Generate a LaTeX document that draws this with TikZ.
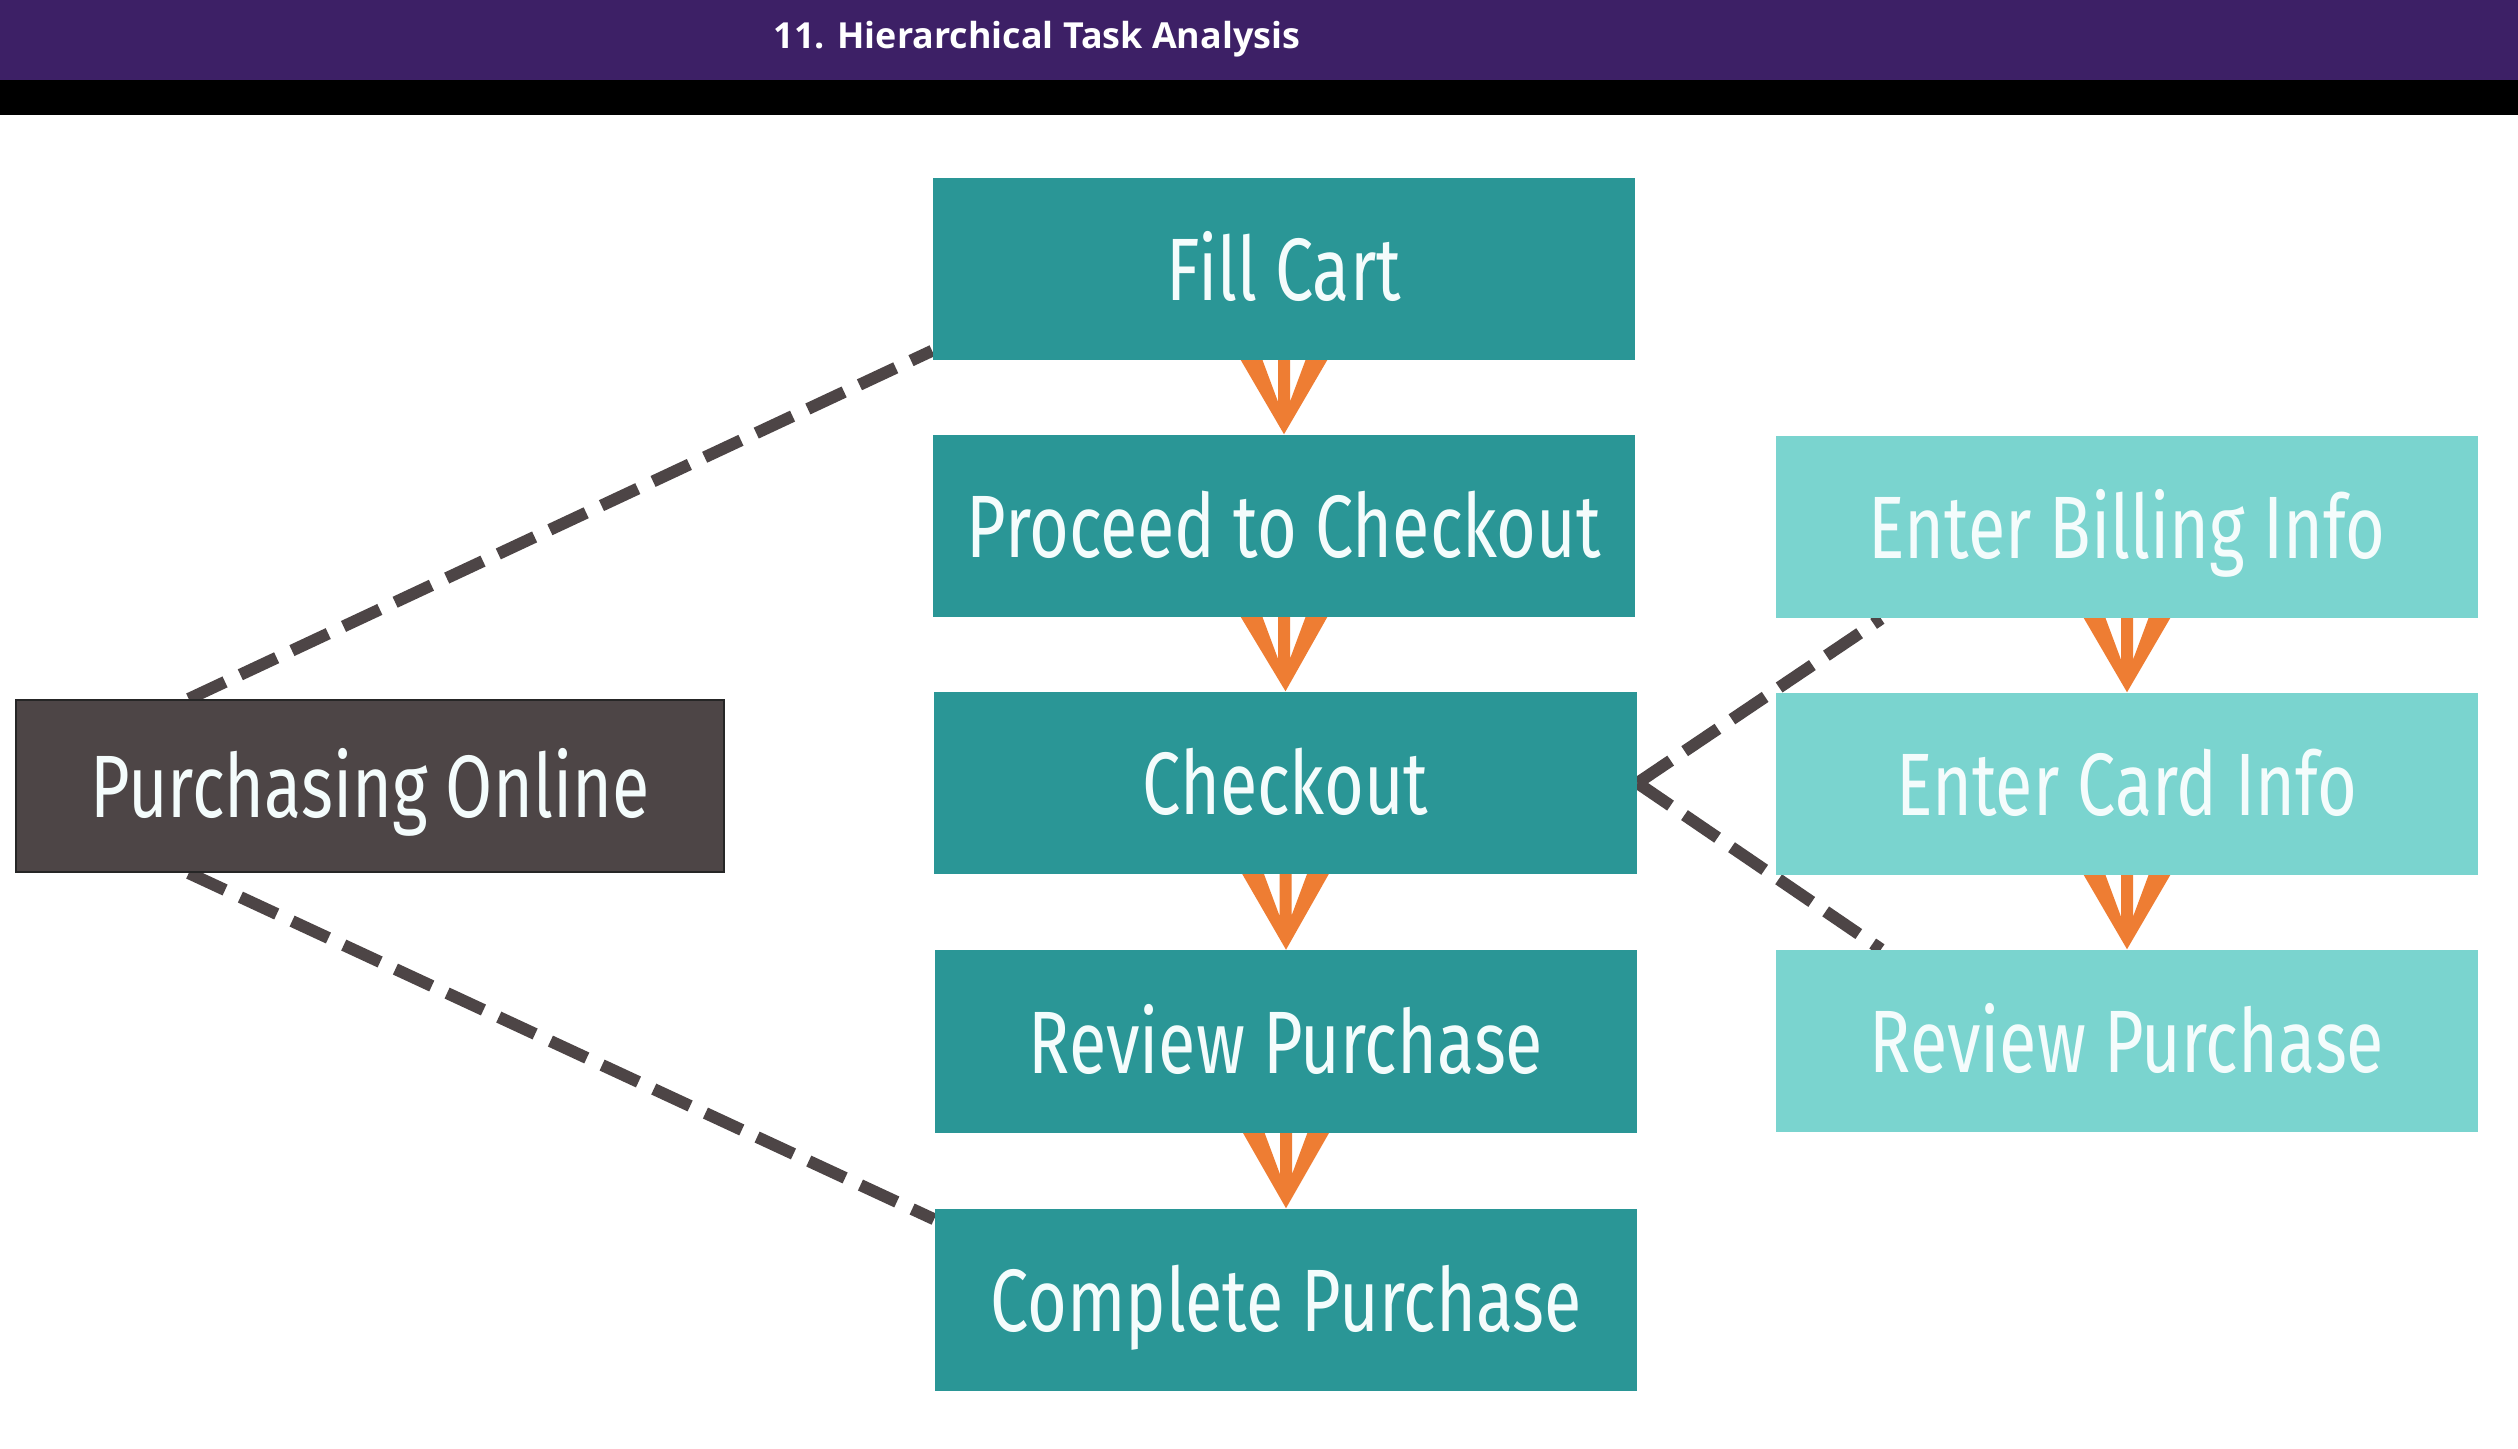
\documentclass[tikz,border=0pt]{standalone}
\usepackage{fontspec}
\setmainfont{Fira Sans}
\newfontfamily\boxfont[FakeStretch=0.77]{Fira Sans}
\newfontfamily\titlefont{Open Sans}
\usetikzlibrary{calc}
\definecolor{headerpurple}{HTML}{3D2066}
\definecolor{mainteal}{HTML}{2A9696}
\definecolor{subteal}{HTML}{7AD4CF}
\definecolor{rootgray}{HTML}{4D4546}
\definecolor{flowor}{HTML}{EE7D33}
\definecolor{boxtext}{HTML}{F4FCFC}
\pgfdeclarelayer{canvas}
\pgfdeclarelayer{links}
\pgfsetlayers{canvas,links,main}
\tikzset{
  task/.style={rectangle, inner sep=0pt, minimum height=1.82cm, text=boxtext,
    text height=21pt, text depth=3pt,
    font=\boxfont\fontsize{25.2}{30}\selectfont},
  mainbox/.style={task, fill=mainteal, minimum width=7.02cm},
  subbox/.style={task, fill=subteal, minimum width=7.02cm},
  rootbox/.style={task, fill=rootgray, draw=black!85, line width=0.6pt,
    minimum width=7.08cm, minimum height=1.72cm},
  flow/.style={fill=flowor},
  link/.style={draw=rootgray, line width=0.12cm, dash pattern=on 11.4pt off 4.8pt}
}
% orange V-shaped step arrow with a short central stem, from box #1 down to box #2
\newcommand\flowarrow[2]{%
  \fill[flow] ($(#1.south)+(-44,-2)$) -- (#2.north) -- ($(#1.south)+(44,-2)$)
    -- ($(#1.south)+(22,-2)$) -- ($(#1.south)+(6,41)$) -- ($(#1.south)+(6,-2)$)
    -- ($(#1.south)+(-6,-2)$) -- ($(#1.south)+(-6,41)$) -- ($(#1.south)+(-22,-2)$)
    -- cycle;
}
\begin{document}
\begin{tikzpicture}[x=0.01cm, y=-0.01cm]
\useasboundingbox (0,0) rectangle (2518,1448);
\begin{pgfonlayer}{canvas}
  \fill[white] (0,0) rectangle (2518,1448);
  \fill[headerpurple] (0,0) rectangle (2518,80);
  \fill[black] (0,80) rectangle (2518,115);
\end{pgfonlayer}
\node[text=white, font=\titlefont\bfseries\fontsize{10.2}{12}\selectfont] (title) at (1037,39) {11. Hierarchical Task Analysis};

% main sequence
\node[mainbox] (fill) at (1284,269) {Fill Cart};
\node[mainbox] (proceed) at (1284,526) {Proceed to Checkout};
\node[mainbox] (checkout) at (1285.5,783) {Checkout};
\node[mainbox] (review) at (1286,1041.5) {Review Purchase};
\node[mainbox] (complete) at (1286,1300) {Complete Purchase};

% root task
\node[rootbox] (root) at (370,786) {Purchasing Online};

% checkout sub-steps
\node[subbox] (billing) at (2127,527) {Enter Billing Info};
\node[subbox] (card) at (2127,784) {Enter Card Info};
\node[subbox] (review2) at (2127,1041) {Review Purchase};

\begin{pgfonlayer}{links}
  \flowarrow{fill}{proceed}
  \flowarrow{proceed}{checkout}
  \flowarrow{checkout}{review}
  \flowarrow{review}{complete}
  \flowarrow{billing}{card}
  \flowarrow{card}{review2}
  \draw[link] ($(root.north west)+(174,0)$) -- ($(fill.south west)+(0,-10)$);
  \draw[link] ($(root.south west)+(174,0)$) -- ($(complete.north west)+(0,11)$);
  \draw[link] (checkout.east) -- ($(billing.south west)+(106,0)$);
  \draw[link] (checkout.east) -- ($(review2.north west)+(106,0)$);
\end{pgfonlayer}
\end{tikzpicture}
\end{document}
